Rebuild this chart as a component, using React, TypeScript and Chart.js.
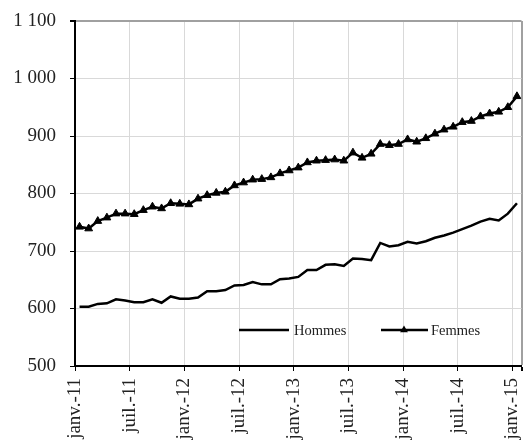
import { useEffect, useRef } from 'react'
import { Chart, registerables } from 'chart.js'

Chart.register(...registerables)

// monthly series, janv. 2011 -> janv. 2015
const months = [
  'janv.-11', 'févr.-11', 'mars-11', 'avr.-11', 'mai-11', 'juin-11', 'juil.-11', 'août-11', 'sept.-11', 'oct.-11', 'nov.-11', 'déc.-11',
  'janv.-12', 'févr.-12', 'mars-12', 'avr.-12', 'mai-12', 'juin-12', 'juil.-12', 'août-12', 'sept.-12', 'oct.-12', 'nov.-12', 'déc.-12',
  'janv.-13', 'févr.-13', 'mars-13', 'avr.-13', 'mai-13', 'juin-13', 'juil.-13', 'août-13', 'sept.-13', 'oct.-13', 'nov.-13', 'déc.-13',
  'janv.-14', 'févr.-14', 'mars-14', 'avr.-14', 'mai-14', 'juin-14', 'juil.-14', 'août-14', 'sept.-14', 'oct.-14', 'nov.-14', 'déc.-14',
  'janv.-15',
]

const hommes = [
  603, 603, 608, 609, 616, 614, 611, 611, 616, 610, 621, 617,
  617, 619, 630, 630, 632, 640, 641, 646, 642, 642, 651, 652,
  655, 667, 667, 676, 677, 674, 687, 686, 684, 714, 708, 710,
  716, 713, 717, 723, 727, 732, 738, 744, 751, 756, 753, 765,
  783,
]

const femmes = [
  742, 739, 752, 758, 765, 765, 764, 771, 777, 774, 783, 782,
  781, 791, 797, 801, 803, 814, 819, 824, 825, 828, 835, 840,
  845, 854, 857, 858, 859, 857, 871, 862, 869, 886, 884, 886,
  894, 890, 896, 904, 911, 916, 924, 926, 934, 939, 942, 950,
  969,
]

const xTickLabels = ['janv.-11', 'juil.-11', 'janv.-12', 'juil.-12', 'janv.-13', 'juil.-13', 'janv.-14', 'juil.-14', 'janv.-15']

const SERIF = '"Liberation Serif", "Times New Roman", serif'

function formatThousands(v: number) {
  return String(v).replace(/\B(?=(\d{3})+(?!\d))/g, ' ')
}

function drawTriangle(ctx: CanvasRenderingContext2D, x: number, y: number, r: number) {
  ctx.beginPath()
  for (let k = 0; k < 3; k++) {
    const a = (k * 2 * Math.PI) / 3
    const px = x + Math.sin(a) * r
    const py = y - Math.cos(a) * r
    if (k === 0) ctx.moveTo(px, py)
    else ctx.lineTo(px, py)
  }
  ctx.closePath()
  ctx.fill()
}

// legend drawn inside the plot, bottom right
const insideLegend = {
  id: 'insideLegend',
  afterDatasetsDraw(chart: any) {
    const { ctx, chartArea } = chart
    const y = chartArea.bottom - 36
    const x0 = chartArea.left
    ctx.save()
    ctx.strokeStyle = '#000'
    ctx.fillStyle = '#000'
    ctx.lineWidth = 2.5
    ctx.font = `14.5px ${SERIF}`
    ctx.textBaseline = 'middle'

    ctx.beginPath()
    ctx.moveTo(x0 + 164, y)
    ctx.lineTo(x0 + 214, y)
    ctx.stroke()
    ctx.fillStyle = '#222'
    ctx.fillText(chart.data.datasets[0].label, x0 + 219, y + 1)

    ctx.fillStyle = '#000'
    ctx.beginPath()
    ctx.moveTo(x0 + 306, y)
    ctx.lineTo(x0 + 353, y)
    ctx.stroke()
    drawTriangle(ctx, x0 + 329, y, 4.5)
    ctx.fillStyle = '#222'
    ctx.fillText(chart.data.datasets[1].label, x0 + 356, y + 1)
    ctx.restore()
  },
}

export default function App() {
  const canvasRef = useRef<HTMLCanvasElement>(null)

  useEffect(() => {
    if (!canvasRef.current) return
    const ctx = canvasRef.current.getContext('2d')
    if (!ctx) return

    const xTicks: number[] = []
    for (let v = -0.5; v <= months.length - 0.5; v += 6) xTicks.push(v)
    xTicks.push(months.length - 0.5)

    const chart = new Chart(ctx, {
      type: 'line',
      data: {
        datasets: [
          {
            label: 'Hommes',
            data: hommes.map((v, i) => ({ x: i, y: v })),
            borderColor: '#000',
            borderWidth: 2.5,
            pointRadius: 0,
            tension: 0,
          },
          {
            label: 'Femmes',
            data: femmes.map((v, i) => ({ x: i, y: v })),
            borderColor: '#000',
            borderWidth: 2.5,
            pointStyle: 'triangle',
            pointRadius: 4.5,
            pointBorderWidth: 1,
            pointBackgroundColor: '#000',
            pointBorderColor: '#000',
            tension: 0,
          },
        ],
      },
      options: {
        responsive: false,
        animation: false,
        layout: { padding: { top: 21, right: 5, left: 0, bottom: 0 } },
        plugins: {
          legend: { display: false },
          tooltip: { enabled: false },
        },
        scales: {
          x: {
            type: 'linear',
            min: -0.5,
            max: months.length - 0.5,
            afterBuildTicks: (scale: any) => {
              scale.ticks = xTicks.map((v) => ({ value: v }))
            },
            afterFit: (scale: any) => {
              scale.height = 79
              scale.paddingLeft = 0
              scale.paddingRight = 0
            },
            ticks: {
              autoSkip: false,
              minRotation: 90,
              maxRotation: 90,
              padding: 7,
              color: '#222',
              font: { family: SERIF, size: 19 },
              callback: (_v: any, i: number) => xTickLabels[i] ?? '',
            },
            grid: {
              color: (c: any) => (c.tick && c.tick.value === months.length - 0.5 ? '#a0a0a0' : '#d9d9d9'),
              lineWidth: (c: any) => (c.tick && c.tick.value === months.length - 0.5 ? 2 : 1),
              tickColor: '#000',
              tickLength: 5,
            },
            border: { display: true, color: '#000', width: 2 },
          },
          y: {
            min: 500,
            max: 1100,
            afterFit: (scale: any) => {
              scale.width = 75
              scale.paddingTop = 0
              scale.paddingBottom = 0
            },
            ticks: {
              stepSize: 100,
              padding: 14,
              color: '#222',
              font: { family: SERIF, size: 19 },
              callback: (v: any) => formatThousands(Number(v)),
            },
            grid: {
              color: (c: any) => (c.tick && c.tick.value === 1100 ? '#a0a0a0' : '#d9d9d9'),
              lineWidth: (c: any) => (c.tick && c.tick.value === 1100 ? 2 : 1),
              tickColor: '#000',
              tickLength: 5,
            },
            border: { display: true, color: '#000', width: 2 },
          },
        },
      },
      plugins: [insideLegend],
    })

    return () => chart.destroy()
  }, [])

  return (
    <div style={{ position: 'fixed', left: 0, top: 0, width: 527, height: 445, background: '#fff' }}>
      <canvas ref={canvasRef} width={527} height={445}></canvas>
    </div>
  )
}
